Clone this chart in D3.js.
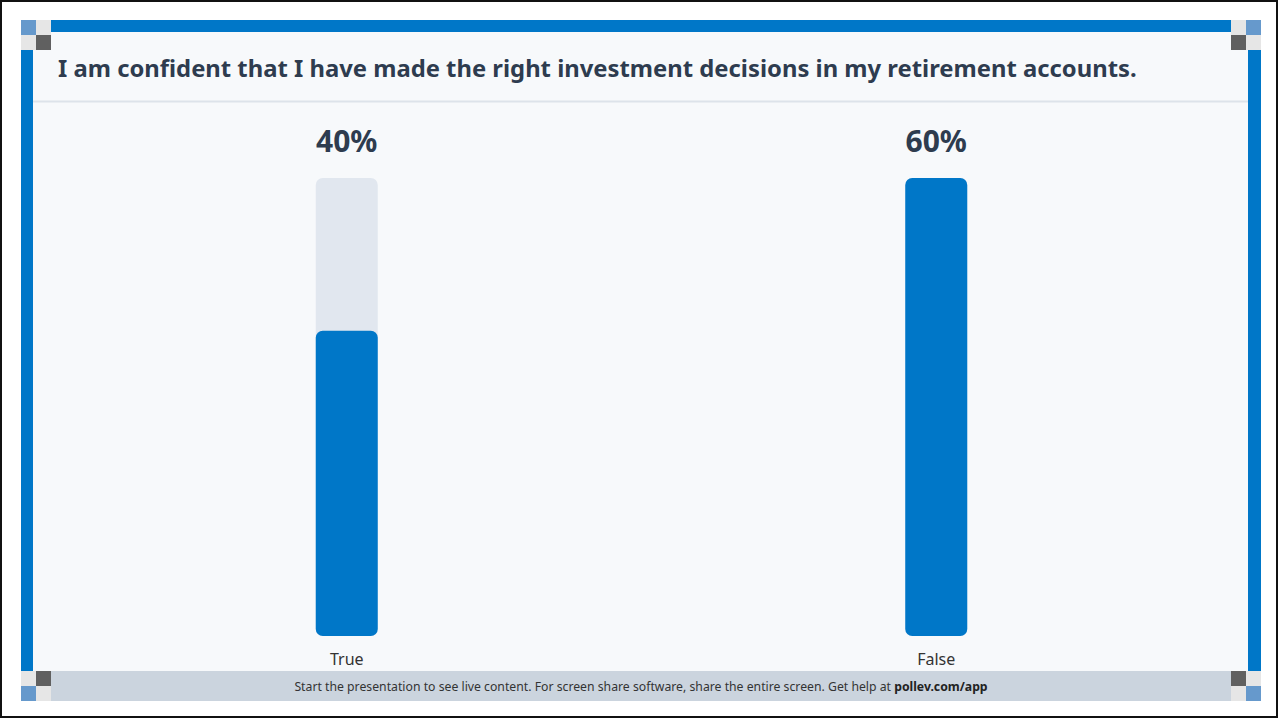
<!DOCTYPE html>
<html>
<head>
    <title>Poll</title>
    <script src="https://d3js.org/d3.v7.min.js"></script>
    <style>
        body { margin: 0; padding: 0; background: #fff; overflow: hidden; }
    </style>
</head>
<body>
    <script>
        var question = "I am confident that I have made the right investment decisions in my retirement accounts.";
        var categories = ["True", "False"];
        var percents = [40, 60];
        var footerText = "Start the presentation to see live content. For screen share software, share the entire screen. Get help at ";
        var footerLink = "pollev.com/app";

        var width = 1279, height = 719;
        var blue = "#0077c8", track = "#e1e7ef", ink = "#2e3c4f";
        var font = "'Source Sans Pro', 'Noto Sans', 'Open Sans', sans-serif";

        var svg = d3.select("body").append("svg")
            .attr("width", width)
            .attr("height", height)
            .style("display", "block");

        // outer frame
        svg.append("rect").attr("x", 1).attr("y", 1).attr("width", width - 3).attr("height", height - 3)
            .attr("fill", "#fff").attr("stroke", "#111").attr("stroke-width", 2);

        // blue border + panel
        svg.append("rect").attr("x", 21).attr("y", 20).attr("width", 1240).attr("height", 681).attr("fill", blue);
        svg.append("rect").attr("x", 33).attr("y", 32).attr("width", 1215).attr("height", 660)
            .attr("rx", 12).attr("fill", "#f7f9fb");
        svg.append("rect").attr("x", 21).attr("y", 671).attr("width", 1240).attr("height", 30).attr("fill", "#cbd4de");

        // corner squares
        var sq = 15;
        var corners = [
            { x: 21, y: 20, c: ["#6699cc", "#e6e6e6", "#e6e6e6", "#606060"] },
            { x: 1231, y: 20, c: ["#e6e6e6", "#6699cc", "#606060", "#e6e6e6"] },
            { x: 21, y: 671, c: ["#e6e6e6", "#606060", "#6699cc", "#e6e6e6"] },
            { x: 1231, y: 671, c: ["#606060", "#e6e6e6", "#e6e6e6", "#6699cc"] }
        ];
        corners.forEach(function (k) {
            k.c.forEach(function (col, i) {
                svg.append("rect")
                    .attr("x", k.x + (i % 2) * sq).attr("y", k.y + Math.floor(i / 2) * sq)
                    .attr("width", sq).attr("height", sq).attr("fill", col);
            });
        });

        // title
        var title = svg.append("text").attr("x", 58).attr("y", 77)
            .attr("font-family", font).attr("font-weight", "bold").attr("font-size", 22)
            .attr("fill", ink).text(question);
        var tw = title.node().getComputedTextLength();
        title.attr("font-size", 22 * 1079 / tw);

        svg.append("line").attr("x1", 33).attr("x2", 1248).attr("y1", 101.5).attr("y2", 101.5)
            .attr("stroke", "#dde3ea").attr("stroke-width", 2);

        // scales
        var x = d3.scalePoint().domain(categories).range([52, 1231]).padding(0.5);
        var y = d3.scaleLinear().domain([0, d3.max(percents)]).range([636, 178]);
        var barW = 62;

        var g = svg.selectAll("g.bar").data(categories).enter().append("g").attr("class", "bar");

        g.append("rect")
            .attr("x", function (d) { return x(d) - barW / 2; })
            .attr("y", y.range()[1])
            .attr("width", barW)
            .attr("height", y.range()[0] - y.range()[1])
            .attr("rx", 7).attr("fill", track);

        g.append("rect")
            .attr("x", function (d) { return x(d) - barW / 2; })
            .attr("y", function (d, i) { return y(percents[i]); })
            .attr("width", barW)
            .attr("height", function (d, i) { return y(0) - y(percents[i]); })
            .attr("rx", 7).attr("fill", blue);

        g.append("text")
            .attr("x", function (d) { return x(d); })
            .attr("y", 152)
            .attr("text-anchor", "middle")
            .attr("font-family", font).attr("font-weight", "bold").attr("font-size", 30)
            .attr("fill", ink)
            .text(function (d, i) { return percents[i] + "%"; });

        g.append("text")
            .attr("x", function (d) { return x(d); })
            .attr("y", 665)
            .attr("text-anchor", "middle")
            .attr("font-family", font).attr("font-size", 16)
            .attr("fill", "#333")
            .text(function (d) { return d; });

        // footer
        var foot = svg.append("text").attr("x", 641).attr("y", 691)
            .attr("text-anchor", "middle")
            .attr("font-family", font).attr("font-size", 12).attr("fill", "#333");
        foot.append("tspan").text(footerText);
        foot.append("tspan").attr("font-weight", "bold").attr("fill", "#222").text(footerLink);
        var fw = foot.node().getComputedTextLength();
        foot.attr("font-size", 12 * 694 / fw);
    </script>
</body>
</html>
